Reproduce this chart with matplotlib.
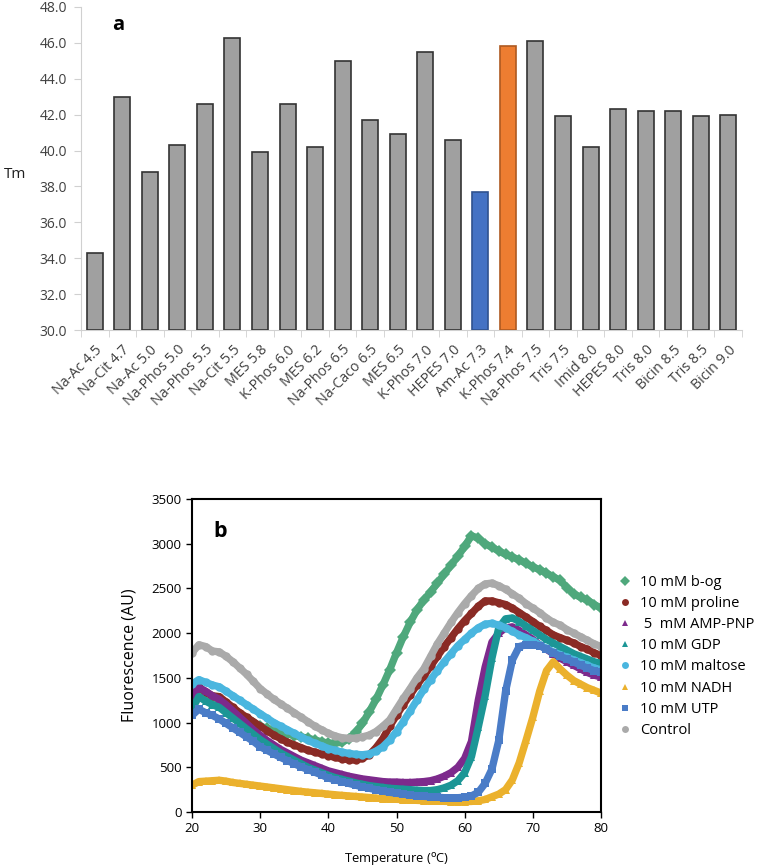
import matplotlib
matplotlib.use("Agg")
import matplotlib.pyplot as plt
from matplotlib.lines import Line2D

plt.rcParams['font.family'] = ['Open Sans', 'DejaVu Sans']

# ---------------- Panel a data ----------------
buffers = ["Na-Ac 4.5", "Na-Cit 4.7", "Na-Ac 5.0", "Na-Phos 5.0", "Na-Phos 5.5",
           "Na-Cit 5.5", "MES 5.8", "K-Phos 6.0", "MES 6.2", "Na-Phos 6.5",
           "Na-Caco 6.5", "MES 6.5", "K-Phos 7.0", "HEPES 7.0", "Am-Ac 7.3",
           "K-Phos 7.4", "Na-Phos 7.5", "Tris 7.5", "Imid 8.0", "HEPES 8.0",
           "Tris 8.0", "Bicin 8.5", "Tris 8.5", "Bicin 9.0"]
tm_values = [34.3, 43.0, 38.8, 40.3, 42.6, 46.3, 39.9, 42.6, 40.2, 45.0,
             41.7, 40.9, 45.5, 40.6, 37.7, 45.8, 46.1, 41.9, 40.2, 42.3,
             42.2, 42.2, 41.9, 42.0]
bar_colors = ["#a0a0a0"] * 14 + ["#4472c4", "#ed7d31"] + ["#a0a0a0"] * 8
bar_edges = ["#333333"] * 14 + ["#2f528f", "#ae5a21"] + ["#333333"] * 8
y_ticks_a = [30.0, 32.0, 34.0, 36.0, 38.0, 40.0, 42.0, 44.0, 46.0, 48.0]

# ---------------- Panel b data ----------------
temp = list(range(20, 81))
bog = [1250, 1320, 1280, 1240, 1210, 1160, 1110, 1060, 1020, 990,
       960, 935, 915, 895, 875, 855, 840, 825, 805, 785,
       770, 770, 780, 820, 890, 990, 1120, 1260, 1420, 1590,
       1780, 1960, 2120, 2260, 2370, 2460, 2560, 2660, 2760, 2860,
       2970, 3090, 3060, 3000, 2960, 2920, 2880, 2850, 2820, 2780,
       2740, 2710, 2670, 2630, 2590, 2510, 2440, 2400, 2370, 2320, 2280]
proline = [1280, 1400, 1340, 1300, 1290, 1230, 1170, 1110, 1060, 1010,
           960, 910, 860, 820, 780, 750, 720, 690, 670, 650,
           630, 610, 595, 585, 580, 600, 640, 720, 820, 960,
           1080, 1200, 1310, 1420, 1520, 1630, 1740, 1850, 1950, 2050,
           2140, 2220, 2300, 2360, 2360, 2340, 2320, 2280, 2230, 2180,
           2130, 2075, 2030, 1980, 1950, 1920, 1890, 1850, 1820, 1780, 1750]
amppnp = [1300, 1390, 1350, 1300, 1260, 1200, 1130, 1060, 990, 920,
          860, 800, 750, 700, 660, 620, 580, 550, 520, 490,
          460, 440, 420, 400, 385, 370, 360, 350, 340, 335,
          335, 330, 330, 335, 340, 350, 370, 400, 440, 500,
          600, 790, 1250, 1620, 1900, 2000, 2060, 2070, 2030, 1980,
          1930, 1870, 1820, 1770, 1720, 1680, 1640, 1600, 1560, 1530, 1510]
gdp = [1150, 1290, 1240, 1200, 1170, 1110, 1050, 990, 930, 870,
       810, 760, 710, 660, 620, 580, 540, 500, 470, 440,
       410, 385, 365, 345, 325, 310, 295, 285, 275, 265,
       260, 255, 250, 245, 240, 240, 250, 270, 300, 350,
       440, 620, 950, 1300, 1720, 2060, 2160, 2170, 2130, 2080,
       2030, 1980, 1930, 1890, 1850, 1810, 1770, 1740, 1710, 1680, 1660]
maltose = [1430, 1480, 1450, 1420, 1400, 1350, 1300, 1250, 1200, 1150,
           1100, 1050, 1000, 960, 920, 880, 840, 800, 770, 740,
           710, 690, 670, 655, 645, 640, 650, 680, 730, 805,
           900, 1010, 1130, 1250, 1370, 1480, 1580, 1680, 1770, 1860,
           1930, 2000, 2060, 2100, 2110, 2090, 2060, 2020, 1980, 1950,
           1910, 1870, 1830, 1790, 1760, 1730, 1700, 1670, 1640, 1610, 1590]
nadh = [300, 340, 345, 350, 355, 345, 330, 320, 310, 300,
        290, 280, 270, 260, 250, 240, 230, 222, 215, 208,
        200, 193, 186, 180, 174, 168, 162, 156, 150, 146,
        142, 138, 134, 130, 127, 124, 121, 119, 117, 116,
        116, 118, 125, 140, 170, 200, 250, 360, 550, 800,
        1060, 1350, 1580, 1680, 1600, 1530, 1470, 1430, 1390, 1360, 1330]
utp = [1080, 1150, 1110, 1080, 1040, 990, 940, 890, 840, 790,
       730, 690, 650, 610, 575, 540, 505, 475, 445, 415,
       380, 360, 340, 320, 300, 280, 265, 250, 235, 220,
       210, 200, 190, 180, 175, 170, 165, 160, 160, 160,
       165, 180, 220, 320, 480, 800, 1350, 1700, 1850, 1870,
       1870, 1860, 1820, 1780, 1740, 1710, 1680, 1640, 1610, 1580, 1560]
control = [1780, 1870, 1850, 1800, 1790, 1740, 1680, 1610, 1540, 1460,
           1380, 1320, 1260, 1210, 1160, 1110, 1060, 1010, 960, 920,
           880, 850, 830, 825, 825, 840, 860, 900, 960, 1030,
           1150, 1270, 1380, 1500, 1600, 1740, 1880, 2000, 2120, 2230,
           2330, 2420, 2500, 2550, 2560, 2530, 2490, 2440, 2390, 2330,
           2280, 2230, 2170, 2120, 2090, 2040, 2000, 1960, 1920, 1880, 1850]

series_b = [
    ("10 mM b-og", bog, "#4fa87c", "D"),
    ("10 mM proline", proline, "#8a2b25", "o"),
    (" 5  mM AMP-PNP", amppnp, "#7d2a8c", "^"),
    ("10 mM GDP", gdp, "#1c9696", "^"),
    ("10 mM maltose", maltose, "#4ab6df", "o"),
    ("10 mM NADH", nadh, "#ebb12d", "^"),
    ("10 mM UTP", utp, "#4a7cc7", "s"),
    ("Control", control, "#aaaaaa", "o"),
]

W, H = 762, 868
fig = plt.figure(figsize=(W / 100, H / 100), dpi=100)

# ---------------- Panel a ----------------
axa = fig.add_axes([81 / W, 1 - 330 / H, (742 - 81) / W, (330 - 7) / H])
x = list(range(len(buffers)))
axa.bar(x, [v - 30 for v in tm_values], bottom=30, width=0.58,
        color=bar_colors, edgecolor=bar_edges, linewidth=1.2, zorder=3)
axa.set_xlim(-0.5, len(buffers) - 0.5)
axa.set_ylim(30, 48)
axa.set_yticks(y_ticks_a)
axa.set_yticklabels([f"{v:.1f}" for v in y_ticks_a], fontsize=10, color="#404040")
axa.set_xticks(x)
axa.set_xticklabels(buffers, rotation=45, ha="right", va="top", rotation_mode="anchor",
                    fontsize=10.3, color="#404040")
axa.set_xticks([i - 0.5 for i in range(len(buffers) + 1)], minor=True)
axa.tick_params(axis="x", which="major", length=0, pad=9)
axa.tick_params(axis="x", which="minor", length=5, color="#d0d0d0")
axa.tick_params(axis="y", length=5, color="#d0d0d0", pad=5)
for s in ["top", "right"]:
    axa.spines[s].set_visible(False)
axa.spines["left"].set_color("#d0d0d0")
axa.spines["bottom"].set_color("#d0d0d0")
fig.text(15 / W, 1 - 175 / H, "Tm", fontsize=11, ha="center", va="center", color="#202020")
fig.text(118 / W, 1 - 25 / H, "a", fontsize=14.5, fontweight="bold", ha="center", va="center")

# ---------------- Panel b ----------------
axb = fig.add_axes([192 / W, 1 - 812 / H, (601 - 192) / W, (812 - 499) / H])
handles = []
for label, vals, col, mk in series_b:
    axb.plot(temp, vals, color=col, lw=5.3, marker=mk, ms=6,
             markeredgewidth=0, solid_capstyle="round")
    handles.append(Line2D([], [], color=col, marker=mk, ls="none", ms=5,
                          markeredgewidth=0, label=label))
axb.set_xlim(20, 80)
axb.set_ylim(0, 3500)
axb.set_xticks(range(20, 81, 10))
axb.set_yticks(range(0, 3501, 500))
axb.tick_params(labelsize=9.5, length=4, width=1, direction="out", colors="black")
for s in axb.spines.values():
    s.set_linewidth(1.5)
axb.set_xlabel("Temperature ($^{\\mathrm{o}}$C)", fontsize=9.3, labelpad=11)
axb.set_ylabel("Fluorescence (AU)", fontsize=11.5, labelpad=10)
axb.text(0.068, 0.895, "b", transform=axb.transAxes, fontsize=15.5, fontweight="bold",
         ha="center", va="center")
fig.legend(handles=handles, loc="upper left", bbox_to_anchor=(618 / W, 1 - 575 / H),
           frameon=False, fontsize=10.5, handlelength=1.0, handletextpad=0.5,
           labelspacing=0.42, borderaxespad=0, borderpad=0)

fig.savefig("out.png", dpi=100)
